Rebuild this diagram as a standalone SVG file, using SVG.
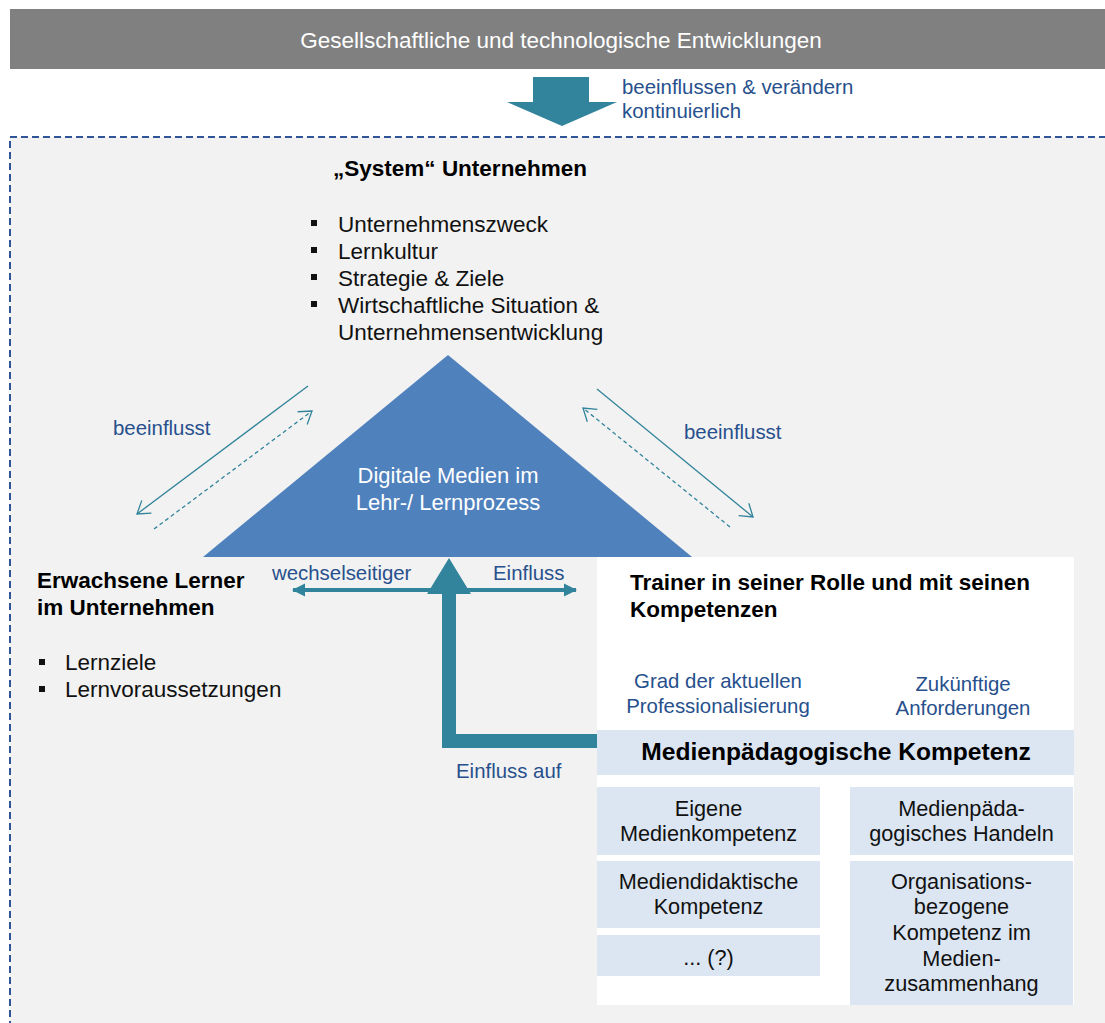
<svg xmlns="http://www.w3.org/2000/svg" width="1105" height="1023" viewBox="0 0 1105 1023">
<defs>
<style>
.t{font-family:"Liberation Sans",Arial,Helvetica,sans-serif;}
.b{font-weight:bold;fill:#000;}
.blk{fill:#111;}
.blue{fill:#27508D;}
.thin{stroke:#31849B;stroke-width:1.3;fill:none;}
.box{fill:#DCE6F2;}
</style>
<marker id="open" viewBox="-14 -10 16 20" refX="0" refY="0" markerWidth="16" markerHeight="20" markerUnits="userSpaceOnUse" orient="auto">
<path d="M-12,-8 L0,0 L-12,8" fill="none" stroke="#31849B" stroke-width="1.3"/>
</marker>
<marker id="solid" viewBox="-13 -7 13 14" refX="-1" refY="0" markerWidth="13" markerHeight="14" markerUnits="userSpaceOnUse" orient="auto-start-reverse">
<path d="M-13,-6.5 L0,0 L-13,6.5 Z" fill="#31849B"/>
</marker>
</defs>
<rect width="1105" height="1023" fill="#FFFFFF"/>
<g id="top-bar">
<rect x="10" y="9" width="1095" height="60" fill="#808080"/>
<text class="t" x="561" y="48" font-size="22.5" fill="#FFFFFF" text-anchor="middle">Gesellschaftliche und technologische Entwicklungen</text>
</g>
<g id="container">
<rect x="10" y="137" width="1200" height="1000" fill="#F2F2F2" stroke="#2F5597" stroke-width="2" stroke-dasharray="7 4"/>
</g>
<g id="system">
<text class="t b" x="460" y="176" font-size="22.5" text-anchor="middle">„System“ Unternehmen</text>
<g class="t blk" font-size="22.5">
<rect x="311" y="220" width="6" height="6"/><text x="338" y="232">Unternehmenszweck</text>
<rect x="311" y="247" width="6" height="6"/><text x="338" y="259">Lernkultur</text>
<rect x="311" y="274" width="6" height="6"/><text x="338" y="286">Strategie &amp; Ziele</text>
<rect x="311" y="301" width="6" height="6"/><text x="338" y="313">Wirtschaftliche Situation &amp;</text>
<text x="338" y="340">Unternehmensentwicklung</text>
</g>
</g>
<g id="triangle">
<polygon points="448,355 692,557 203,557" fill="#4F81BD"/>
<text class="t" x="448" y="483" font-size="22" fill="#FFFFFF" text-anchor="middle">Digitale Medien im</text>
<text class="t" x="448" y="510" font-size="22" fill="#FFFFFF" text-anchor="middle">Lehr-/ Lernprozess</text>
</g>
<g id="lerner">
<text class="t b" x="37" y="588" font-size="22.5">Erwachsene Lerner</text>
<text class="t b" x="37" y="615" font-size="22.5">im Unternehmen</text>
<g class="t blk" font-size="22.5">
<rect x="39" y="659" width="6" height="6"/><text x="65" y="670">Lernziele</text>
<rect x="39" y="686" width="6" height="6"/><text x="65" y="697">Lernvoraussetzungen</text>
</g>
</g>
<g id="trainer">
<rect x="597" y="557" width="477" height="448" fill="#FFFFFF"/>
<text class="t b" x="630" y="590" font-size="22.5">Trainer in seiner Rolle und mit seinen</text>
<text class="t b" x="630" y="617" font-size="22.5">Kompetenzen</text>
<g class="t blue" font-size="20.4" text-anchor="middle">
<text x="718" y="688">Grad der aktuellen</text>
<text x="718" y="713">Professionalisierung</text>
<text x="963" y="691">Zukünftige</text>
<text x="963" y="715">Anforderungen</text>
</g>
<rect x="597" y="730" width="477" height="45" class="box"/>
<text class="t b" x="836" y="760" font-size="24.6" text-anchor="middle">Medienpädagogische Kompetenz</text>
</g>
<g id="eigene">
<rect x="597" y="787" width="223" height="68" class="box"/>
<text class="t blk" x="708.5" y="816" font-size="21.7" text-anchor="middle">Eigene</text>
<text class="t blk" x="708.5" y="841" font-size="21.7" text-anchor="middle">Medienkompetenz</text>
</g>
<g id="mediendidaktik">
<rect x="597" y="861" width="223" height="67" class="box"/>
<text class="t blk" x="708.5" y="889" font-size="21.7" text-anchor="middle">Mediendidaktische</text>
<text class="t blk" x="708.5" y="914" font-size="21.7" text-anchor="middle">Kompetenz</text>
</g>
<g id="unknown">
<rect x="597" y="935" width="223" height="41" class="box"/>
<text class="t blk" x="708.5" y="965" font-size="21.7" text-anchor="middle">... (?)</text>
</g>
<g id="handeln">
<rect x="850" y="787" width="223" height="68" class="box"/>
<text class="t blk" x="961.5" y="816" font-size="21.7" text-anchor="middle">Medienpäda-</text>
<text class="t blk" x="961.5" y="841" font-size="21.7" text-anchor="middle">gogisches Handeln</text>
</g>
<g id="organisation">
<rect x="850" y="861" width="223" height="144" class="box"/>
<g class="t blk" font-size="21.7" text-anchor="middle">
<text x="961.5" y="889">Organisations-</text>
<text x="961.5" y="914">bezogene</text>
<text x="961.5" y="940">Kompetenz im</text>
<text x="961.5" y="966">Medien-</text>
<text x="961.5" y="991">zusammenhang</text>
</g>
</g>
<g id="connectors">
<polygon points="533,77 589,77 589,102 617,102 562,126 507,102 533,102" fill="#31849B"/>
<line class="thin" x1="308" y1="386" x2="137" y2="514" marker-end="url(#open)"/>
<line class="thin" x1="154" y1="529" x2="312" y2="411" stroke-dasharray="4 3" marker-end="url(#open)"/>
<line class="thin" x1="597" y1="389" x2="753" y2="517" marker-end="url(#open)"/>
<line class="thin" x1="730" y1="527" x2="583" y2="408" stroke-dasharray="4 3" marker-end="url(#open)"/>
<line x1="293" y1="590" x2="576" y2="590" stroke="#31849B" stroke-width="4" marker-start="url(#solid)" marker-end="url(#solid)"/>
<polygon points="597,734 456,734 456,594 471,594 449,558 427,594 442,594 442,748 597,748" fill="#31849B"/>
</g>
<g id="labels" class="t blue">
<text x="622" y="94" font-size="20.4">beeinflussen &amp; verändern</text>
<text x="622" y="118" font-size="20.4">kontinuierlich</text>
<text x="113" y="435" font-size="20.4">beeinflusst</text>
<text x="684" y="439" font-size="20.4">beeinflusst</text>
<text x="272" y="580" font-size="20.4">wechselseitiger</text>
<text x="493" y="580" font-size="20.4">Einfluss</text>
<text x="456" y="778" font-size="20.4">Einfluss auf</text>
</g>
</svg>
